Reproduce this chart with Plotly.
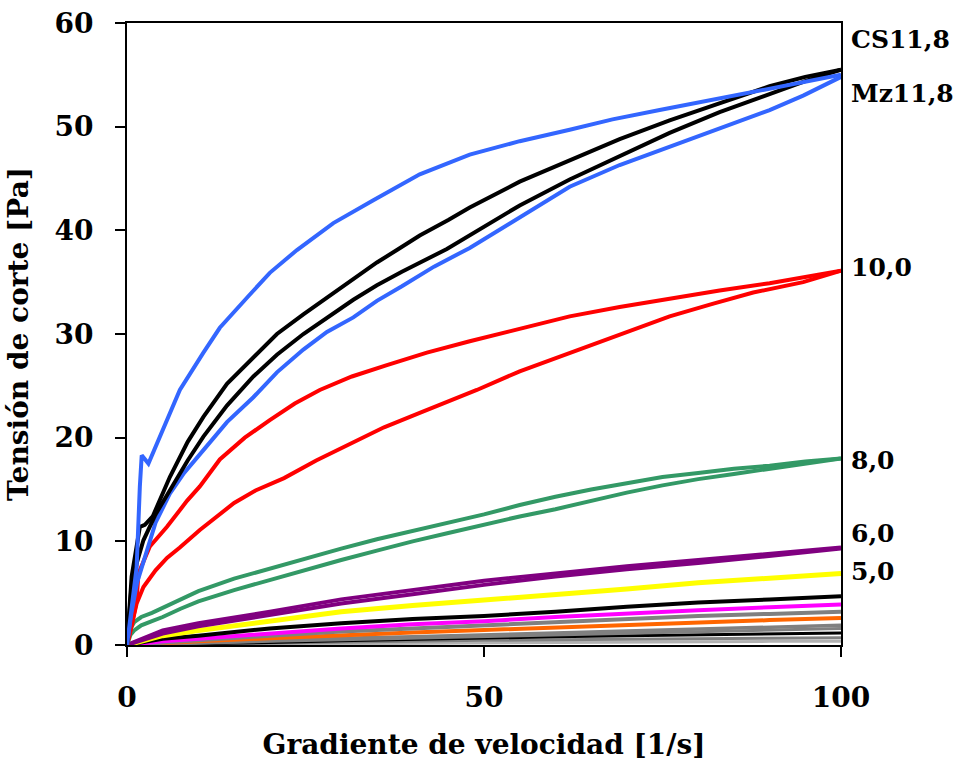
import plotly.graph_objects as go

# Mz11,8 (blue): ramp up with stress overshoot, then ramp down
mz_up_x = [0, 0.4, 1.35, 1.8, 2.06, 3, 4.6, 7.4, 10.7, 13, 16.8, 20, 23.8, 28.9, 34.5, 41, 48, 55, 62, 68, 74.6, 82, 90, 95, 100]
mz_up_y = [0, 2.4, 7.5, 15.3, 18.3, 17.5, 20.1, 24.6, 28.2, 30.6, 33.5, 35.9, 38.1, 40.7, 42.9, 45.4, 47.3, 48.6, 49.7, 50.7, 51.6, 52.6, 53.7, 54.3, 55.0]
mz_dn_x = [0, 0.6, 1.4, 2.8, 4, 6, 8, 10.7, 14, 17.7, 21, 24.7, 28, 31.7, 35, 38.5, 43, 48, 55, 62, 69, 76, 83, 90, 94.7, 100]
mz_dn_y = [0, 3.0, 6.0, 9.2, 11.8, 14.6, 16.6, 18.8, 21.5, 23.9, 26.3, 28.5, 30.2, 31.6, 33.2, 34.6, 36.5, 38.3, 41.3, 44.2, 46.3, 48.1, 49.9, 51.6, 53.0, 54.8]

# CS11,8 (black)
cs_up_x = [0, 0.65, 1.8, 2.5, 3.6, 6, 8.5, 10.7, 14, 17.7, 21, 24.7, 28, 31.7, 35, 37.8, 41, 45, 48, 55, 62, 69, 76, 83, 90, 95, 100]
cs_up_y = [0, 6.6, 11.4, 11.6, 12.4, 16.2, 19.6, 22.0, 25.2, 27.8, 30.0, 31.9, 33.5, 35.3, 36.9, 38.1, 39.5, 41.0, 42.2, 44.7, 46.8, 48.8, 50.6, 52.3, 53.9, 54.8, 55.5]
cs_dn_x = [0, 0.6, 1.4, 2.3, 4, 6, 8.5, 10.7, 14, 17.7, 21, 24.7, 28, 31.7, 35, 38.5, 44.8, 48, 55, 62, 69, 76, 83, 90, 95, 100]
cs_dn_y = [0, 5.4, 8.0, 10.1, 12.6, 14.9, 17.8, 20.1, 23.1, 25.9, 28.0, 30.0, 31.6, 33.3, 34.7, 36.0, 38.2, 39.5, 42.4, 44.9, 47.2, 49.4, 51.4, 53.2, 54.4, 55.5]

# 10,0 (red)
c10_up_x = [0, 0.7, 1.35, 1.6, 3.2, 5.6, 8.4, 10.2, 13, 16.5, 20, 23.5, 27, 31.5, 36.4, 42, 48, 55, 62, 69, 76, 83, 90, 95, 100]
c10_up_y = [0, 2.0, 4.3, 6.9, 9.5, 11.4, 13.9, 15.3, 17.9, 20.0, 21.7, 23.3, 24.6, 25.9, 27.0, 28.2, 29.3, 30.5, 31.7, 32.6, 33.4, 34.2, 34.9, 35.5, 36.1]
c10_dn_x = [0, 0.7, 1.35, 2.3, 4, 5.6, 7.4, 10.2, 13, 15, 18, 22, 26.5, 31.5, 36, 41, 45, 49, 55, 62, 69, 76, 82, 87.7, 94.7, 100]
c10_dn_y = [0, 2.2, 4.0, 5.6, 7.2, 8.4, 9.4, 11.1, 12.6, 13.7, 14.9, 16.1, 17.8, 19.5, 21.0, 22.4, 23.5, 24.6, 26.4, 28.2, 30.0, 31.7, 32.9, 34.0, 35.0, 36.1]

# 8,0 (green)
c8_x = [0, 0.5, 1, 2, 3.5, 5, 7.5, 10, 15, 20, 25, 30, 35, 40, 45, 50, 55, 60, 65, 70, 75, 80, 85, 90, 95, 100]
c8_up_y = [0, 1.6, 2.2, 2.7, 3.1, 3.6, 4.4, 5.2, 6.4, 7.4, 8.4, 9.3, 10.2, 11.0, 11.8, 12.6, 13.5, 14.3, 15.0, 15.6, 16.2, 16.6, 17.0, 17.3, 17.7, 18.0]
c8_dn_y = [0, 1.0, 1.4, 1.9, 2.3, 2.7, 3.5, 4.2, 5.3, 6.3, 7.3, 8.2, 9.1, 10.0, 10.8, 11.6, 12.4, 13.1, 13.9, 14.7, 15.4, 16.0, 16.5, 17.0, 17.5, 18.0]

# 6,0 (purple) and 5,0 (yellow)
x_lo = [0, 5, 10, 20, 30, 40, 50, 60, 70, 80, 90, 100]
c6_up_y = [0, 1.4, 2.1, 3.2, 4.4, 5.3, 6.2, 6.9, 7.6, 8.2, 8.8, 9.4]
c6_dn_y = [0, 1.1, 1.8, 2.9, 4.0, 4.9, 5.8, 6.6, 7.3, 7.9, 8.6, 9.3]
c5_y = [0, 0.9, 1.4, 2.3, 3.2, 3.8, 4.3, 4.9, 5.4, 6.0, 6.5, 6.9]

# Lower-concentration samples
low_black = [0, 0.6, 0.9, 1.6, 2.1, 2.5, 2.8, 3.2, 3.7, 4.1, 4.4, 4.7]
low_magenta = [0, 0.35, 0.6, 1.1, 1.6, 2.0, 2.3, 2.7, 3.05, 3.35, 3.65, 3.9]
low_gray_a = [0, 0.25, 0.45, 0.9, 1.3, 1.6, 1.9, 2.25, 2.55, 2.8, 3.0, 3.2]
low_orange = [0, 0.2, 0.35, 0.65, 0.95, 1.2, 1.45, 1.7, 1.95, 2.2, 2.4, 2.6]
low_gray_c = [0, 0.12, 0.25, 0.45, 0.65, 0.8, 0.95, 1.15, 1.35, 1.55, 1.75, 1.9]
low_gray_d = [0, 0.1, 0.2, 0.35, 0.5, 0.65, 0.8, 0.95, 1.1, 1.3, 1.45, 1.6]
low_black_2 = [0, 0.05, 0.1, 0.25, 0.4, 0.55, 0.67, 0.8, 0.9, 1.0, 1.1, 1.15]
low_gray_e = [0, 0.05, 0.1, 0.2, 0.3, 0.35, 0.45, 0.5, 0.55, 0.6, 0.65, 0.7]
low_gray_f = [0, 0.02, 0.05, 0.1, 0.15, 0.2, 0.25, 0.28, 0.3, 0.32, 0.35, 0.35]

# Curve labels at the right edge
label_texts = ["CS11,8", "Mz11,8", "10,0", "8,0", "6,0", "5,0"]
label_y = [58.4, 53.2, 36.4, 17.8, 10.8, 7.1]

BLUE = "#3366ff"
RED = "#ff0000"
GREEN = "#339966"
PURPLE = "#800080"
YELLOW = "#ffff00"
MAGENTA = "#ff00ff"
ORANGE = "#ff6600"
GRAY = "#808080"
LIGHT_GRAY = "#b2b2b2"
BLACK = "#000000"

FONT = "DejaVu Serif"

fig = go.Figure()


def add_line(xs, ys, color, width=4):
    fig.add_trace(go.Scatter(x=xs, y=ys, mode="lines",
                             line=dict(color=color, width=width),
                             showlegend=False, hoverinfo="skip"))


# bottom curves first so the upper ones are drawn over them
add_line(x_lo, low_gray_f, LIGHT_GRAY, 3)
add_line(x_lo, low_gray_e, GRAY, 3)
add_line(x_lo, low_black_2, BLACK, 3)
add_line(x_lo, low_gray_d, GRAY, 3)
add_line(x_lo, low_gray_c, GRAY, 3.5)
add_line(x_lo, low_orange, ORANGE, 4)
add_line(x_lo, low_gray_a, GRAY, 4)
add_line(x_lo, low_magenta, MAGENTA, 4)
add_line(x_lo, low_black, BLACK, 4)
add_line(x_lo, c5_y, YELLOW, 5)
add_line(x_lo, c6_dn_y, PURPLE, 4)
add_line(x_lo, c6_up_y, PURPLE, 4)
add_line(c8_x, c8_dn_y, GREEN, 4)
add_line(c8_x, c8_up_y, GREEN, 4)
add_line(c10_dn_x, c10_dn_y, RED)
add_line(c10_up_x, c10_up_y, RED)
add_line(mz_dn_x, mz_dn_y, BLUE)
add_line(cs_dn_x, cs_dn_y, BLACK)
add_line(cs_up_x, cs_up_y, BLACK)
add_line(mz_up_x, mz_up_y, BLUE)

for t, yv in zip(label_texts, label_y):
    fig.add_annotation(x=1.011, y=yv, xref="paper", yref="y", text=t,
                       showarrow=False, xanchor="left", yanchor="middle",
                       font=dict(family=FONT, size=25, color="black", weight="bold"))

axis_common = dict(
    showline=True, linecolor="black", linewidth=2, mirror=True,
    ticks="outside", ticklen=10, tickwidth=2, tickcolor="black",
    showgrid=False, zeroline=False, automargin=False,
    tickfont=dict(family=FONT, size=28, color="black", weight="bold"),
)

fig.update_layout(
    width=963, height=761,
    margin=dict(l=127, r=122, t=23, b=116),
    paper_bgcolor="white", plot_bgcolor="white",
    xaxis=dict(range=[0, 100], tickvals=[0, 50, 100], ticklabelstandoff=16,
               title=dict(text="Gradiente de velocidad [1/s]", standoff=26,
                          font=dict(family=FONT, size=28, color="black", weight="bold")),
               **axis_common),
    yaxis=dict(range=[0, 60], tickvals=[0, 10, 20, 30, 40, 50, 60], ticklabelstandoff=16,
               title=dict(text="Tensión de corte [Pa]", standoff=18,
                          font=dict(family=FONT, size=28, color="black", weight="bold")),
               **axis_common),
)

fig.write_html("out.html")
